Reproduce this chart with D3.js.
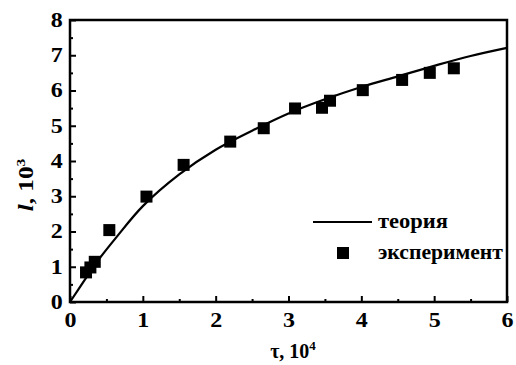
<!DOCTYPE html>
<html><head><meta charset="utf-8">
<script src="https://cdn.jsdelivr.net/npm/d3@7"></script>
<style>
body{margin:0;background:#fff}
</style></head>
<body><svg id="c" width="516" height="365"></svg>
<script>
// ---- data ----
const tauTicks = [0, 1, 2, 3, 4, 5, 6];
const lTicks = [0, 1, 2, 3, 4, 5, 6, 7, 8];
const tauMinor = [0.5, 1.5, 2.5, 3.5, 4.5, 5.5];
const lMinor = [0.5, 1.5, 2.5, 3.5, 4.5, 5.5, 6.5, 7.5];
// theory curve
const theoryTau = [0, 0.2, 0.4, 0.63, 1.0, 1.5, 2.0, 2.5, 3.0, 3.5, 4.0, 4.5, 5.0, 5.5, 6.0];
const theoryL   = [0, 0.62, 1.22, 1.82, 2.72, 3.62, 4.32, 4.86, 5.35, 5.75, 6.1, 6.4, 6.7, 6.98, 7.21];
// experiment points
const expTau = [0.22, 0.28, 0.34, 0.54, 1.05, 1.56, 2.20, 2.66, 3.09, 3.46, 3.57, 4.02, 4.56, 4.94, 5.27];
const expL   = [0.84, 0.98, 1.14, 2.04, 2.99, 3.89, 4.55, 4.93, 5.49, 5.51, 5.71, 6.01, 6.30, 6.50, 6.63];
const legendLabels = ["теория", "эксперимент"];

// ---- layout ----
const FONT = "'Liberation Serif', 'Times New Roman', serif";
const svg = d3.select("#c");
const L = 70, R = 507, T = 20, B = 302;
const x = d3.scaleLinear().domain([0, 6]).range([L, R]);
const y = d3.scaleLinear().domain([0, 8]).range([B, T]);

function styleText(sel, size) {
  sel.attr("font-family", null).attr("font-size", null)
    .style("font-family", FONT).style("font-weight", "bold").style("font-size", size + "px").attr("fill", "#000");
}

// minor ticks
svg.append("g").attr("transform", `translate(0,${B})`)
  .call(d3.axisBottom(x).tickValues(tauMinor).tickSizeInner(-3).tickSizeOuter(0).tickFormat(""))
  .call(g => g.select(".domain").remove())
  .call(g => g.selectAll("line").attr("stroke-width", 2));
svg.append("g").attr("transform", `translate(${L},0)`)
  .call(d3.axisLeft(y).tickValues(lMinor).tickSizeInner(-3).tickSizeOuter(0).tickFormat(""))
  .call(g => g.select(".domain").remove())
  .call(g => g.selectAll("line").attr("stroke-width", 2));

// major ticks
const gx = svg.append("g").attr("transform", `translate(0,${B})`)
  .call(d3.axisBottom(x).tickValues(tauTicks).tickSizeInner(-6).tickSizeOuter(0).tickPadding(11).tickFormat(d3.format("d")))
  .call(g => g.select(".domain").remove());
gx.attr("font-family", null).attr("font-size", null);
gx.selectAll("line").attr("stroke-width", 2);
gx.selectAll("text").call(styleText, 20).attr("transform", "scale(1.2,1)");

const gy = svg.append("g").attr("transform", `translate(${L},0)`)
  .call(d3.axisLeft(y).tickValues(lTicks).tickSizeInner(-6).tickSizeOuter(0).tickPadding(6).tickFormat(d3.format("d")))
  .call(g => g.select(".domain").remove());
gy.attr("font-family", null).attr("font-size", null);
gy.selectAll("line").attr("stroke-width", 2);
gy.selectAll("text").call(styleText, 20).attr("transform", "scale(1.2,1)");

// frame
svg.append("rect").attr("x", L).attr("y", T).attr("width", R - L).attr("height", B - T)
  .attr("fill", "none").attr("stroke", "#000").attr("stroke-width", 2.5);

// theory line
const line = d3.line().x((d, i) => x(theoryTau[i])).y((d, i) => y(theoryL[i])).curve(d3.curveCatmullRom.alpha(0.5));
svg.append("path").datum(theoryL).attr("d", line)
  .attr("fill", "none").attr("stroke", "#000").attr("stroke-width", 2.2);

// experiment squares
const S = 12;
svg.append("g").selectAll("rect").data(expL).join("rect")
  .attr("x", (d, i) => x(expTau[i]) - S / 2)
  .attr("y", d => y(d) - S / 2)
  .attr("width", S).attr("height", S).attr("fill", "#000");

// legend
svg.append("line").attr("x1", 313).attr("x2", 372).attr("y1", 222).attr("y2", 222)
  .attr("stroke", "#000").attr("stroke-width", 2.2);
svg.append("text").attr("x", 378).attr("y", 228).call(styleText, 20)
  .attr("textLength", 70).attr("lengthAdjust", "spacingAndGlyphs").text(legendLabels[0]);
svg.append("rect").attr("x", 343 - S / 2).attr("y", 253 - S / 2).attr("width", S).attr("height", S).attr("fill", "#000");
svg.append("text").attr("x", 378).attr("y", 259).call(styleText, 20)
  .attr("textLength", 125).attr("lengthAdjust", "spacingAndGlyphs").text(legendLabels[1]);

// axis titles
const xt = svg.append("text").attr("x", 293).attr("y", 358).attr("text-anchor", "middle").call(styleText, 20);
xt.append("tspan").text("τ, 10");
xt.append("tspan").style("font-size", "13px").attr("dy", -8).text("4");

const yt = svg.append("text").attr("transform", "translate(33,185) rotate(-90) scale(1.2,1)").attr("text-anchor", "middle").call(styleText, 21);
yt.append("tspan").style("font-style", "italic").text("l");
yt.append("tspan").text(", 10");
yt.append("tspan").style("font-size", "13px").attr("dy", -8).text("3");
</script></body></html>
